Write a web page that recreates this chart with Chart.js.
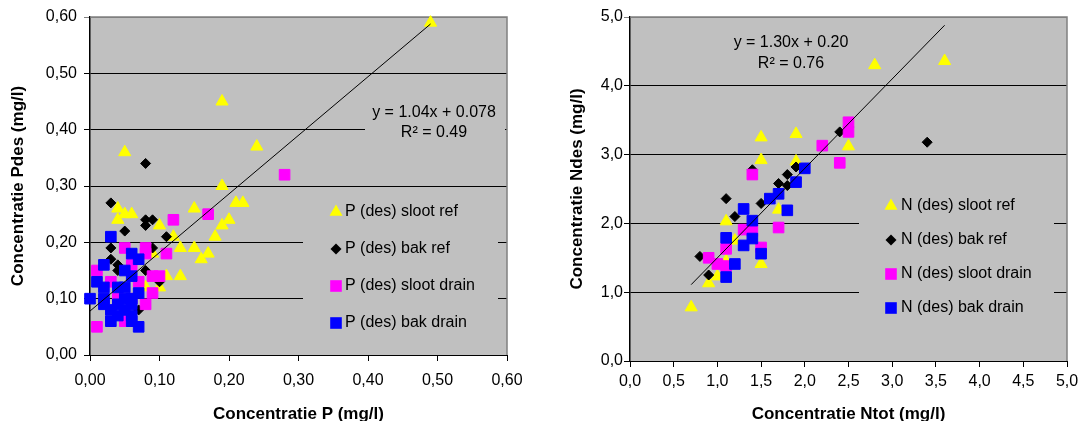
<!DOCTYPE html>
<html lang="nl">
<head>
<meta charset="utf-8">
<title>Pdes en Ndes</title>
<script src="https://cdn.jsdelivr.net/npm/chart.js@4.4.1/dist/chart.umd.min.js"></script>
<style>
  html, body { margin: 0; padding: 0; background: #fff; overflow: hidden; }
  canvas { position: absolute; top: 0; }
  #chartP { left: 0; }
  #chartN { left: 550px; }
</style>
</head>
<body>
<canvas id="chartP" width="545" height="430"></canvas>
<canvas id="chartN" width="540" height="430"></canvas>
<script>
// Fosfor: [P totaal, P des] in mg/l
const pSlootRef = [[0.49,0.59],[0.19,0.45],[0.24,0.37],[0.05,0.36],[0.19,0.30],[0.21,0.27],[0.22,0.27],
  [0.15,0.26],[0.04,0.26],[0.05,0.25],[0.06,0.25],[0.04,0.24],[0.20,0.24],[0.19,0.23],[0.10,0.23],
  [0.18,0.21],[0.12,0.21],[0.13,0.19],[0.15,0.19],[0.17,0.18],[0.16,0.17],[0.09,0.18],[0.11,0.14],
  [0.13,0.14],[0.10,0.12],[0.08,0.12]];
const pBakRef = [[0.08,0.34],[0.03,0.27],[0.08,0.24],[0.09,0.24],[0.08,0.23],[0.05,0.22],[0.11,0.21],
  [0.03,0.19],[0.09,0.19],[0.03,0.17],[0.04,0.16],[0.04,0.15],[0.08,0.15],[0.07,0.08],[0.10,0.13]];
const pSlootDrain = [[0.28,0.32],[0.17,0.25],[0.12,0.24],[0.05,0.19],[0.08,0.19],[0.11,0.18],[0.08,0.18],
  [0.06,0.16],[0.01,0.15],[0.03,0.13],[0.07,0.13],[0.09,0.14],[0.10,0.14],[0.09,0.11],[0.04,0.10],
  [0.08,0.09],[0.01,0.05],[0.05,0.06],[0.06,0.10]];
const pBakDrain = [[0.03,0.21],[0.06,0.18],[0.07,0.17],[0.02,0.16],[0.05,0.15],[0.06,0.14],[0.01,0.13],
  [0.04,0.12],[0.00,0.10],[0.02,0.10],[0.05,0.10],[0.06,0.10],[0.02,0.09],[0.04,0.09],[0.06,0.09],
  [0.03,0.08],[0.05,0.08],[0.04,0.07],[0.06,0.07],[0.03,0.06],[0.06,0.06],[0.07,0.05],[0.02,0.12],
  [0.05,0.12],[0.07,0.11]];

// Stikstof: [N totaal, N des] in mg/l
const nSlootRef = [[3.6,4.36],[2.8,4.30],[1.5,3.25],[1.9,3.30],[2.5,3.12],[1.5,2.92],[1.9,2.90],
  [1.7,2.20],[1.1,2.03],[1.2,1.75],[1.5,1.41],[1.0,1.23],[0.9,1.13],[0.7,0.78],[1.1,1.45]];
const nBakRef = [[3.4,3.18],[2.4,3.33],[1.9,2.82],[1.8,2.71],[1.7,2.58],[1.8,2.55],[1.4,2.78],
  [1.1,2.36],[1.2,2.10],[1.5,2.29],[0.8,1.52],[0.9,1.25]];
const nSlootDrain = [[2.5,3.47],[2.5,3.33],[2.2,3.13],[2.4,2.88],[1.4,2.71],[1.7,1.94],[1.3,1.91],
  [1.4,1.89],[1.1,1.63],[0.9,1.50],[1.0,1.41],[1.1,1.38],[1.5,1.65]];
const nBakDrain = [[2.0,2.80],[1.9,2.60],[1.7,2.43],[1.6,2.36],[1.8,2.19],[1.3,2.21],[1.4,2.04],
  [1.1,1.79],[1.3,1.68],[1.4,1.78],[1.5,1.56],[1.2,1.41],[1.1,1.22]];

const pLabels = ['P (des) sloot ref', 'P (des) bak ref', 'P (des) sloot drain', 'P (des) bak drain'];
const nLabels = ['N (des) sloot ref', 'N (des) bak ref', 'N (des) sloot drain', 'N (des) bak drain'];

// trendlijnen
const pSlope = 1.04, pIntercept = 0.078;
const nSlope = 1.30, nIntercept = 0.20;
const pEquation = ['y = 1.04x + 0.078', 'R\u00b2 = 0.49'];
const nEquation = ['y = 1.30x + 0.20', 'R\u00b2 = 0.76'];

// assen
const pTicks = [0, 0.1, 0.2, 0.3, 0.4, 0.5, 0.6];
const pTickLabels = ['0,00', '0,10', '0,20', '0,30', '0,40', '0,50', '0,60'];
const nXTicks = [0, 0.5, 1, 1.5, 2, 2.5, 3, 3.5, 4, 4.5, 5];
const nXTickLabels = ['0,0', '0,5', '1,0', '1,5', '2,0', '2,5', '3,0', '3,5', '4,0', '4,5', '5,0'];
const nYTicks = [0, 1, 2, 3, 4, 5];
const nYTickLabels = ['0,0', '1,0', '2,0', '3,0', '4,0', '5,0'];

const FONT = '"Liberation Sans", Arial, sans-serif';

const seriesStyle = [
    { pointStyle: 'triangle', color: '#ffff00', radius: 7 },
    { pointStyle: 'rectRot', color: '#000000', radius: 5 },
    { pointStyle: 'rect', color: '#ff00ff', radius: 7.5 },
    { pointStyle: 'rect', color: '#0000ff', radius: 7.5 }
];

const toPoints = (rows) => rows.map(([x, y]) => ({ x: x, y: y }));

// lijn over het bereik van de metingen
const trendPoints = (series, slope, intercept) => {
    const xs = series.flat().map(p => p[0]);
    const x0 = Math.min(...xs);
    const x1 = Math.max(...xs);
    return [{ x: x0, y: slope * x0 + intercept }, { x: x1, y: slope * x1 + intercept }];
};

const makeDatasets = (series, labels, slope, intercept) => {
    const sets = series.map((rows, i) => ({
        type: 'scatter',
        label: labels[i],
        data: toPoints(rows),
        pointStyle: seriesStyle[i].pointStyle,
        pointRadius: seriesStyle[i].radius,
        pointHoverRadius: seriesStyle[i].radius,
        pointBackgroundColor: seriesStyle[i].color,
        pointBorderColor: seriesStyle[i].color,
        pointBorderWidth: 1,
        order: series.length - i,
        clip: false
    }));
    sets.push({
        type: 'line',
        label: 'trend',
        data: trendPoints(series, slope, intercept),
        borderColor: '#000',
        borderWidth: 1,
        pointRadius: 0,
        fill: false,
        order: 0,
        clip: false
    });
    return sets;
};

const drawMarker = (ctx, st, x, y) => {
    const r = st.radius;
    ctx.fillStyle = st.color;
    ctx.beginPath();
    if (st.pointStyle === 'triangle') {
        for (let k = 0; k < 3; k++) {
            const a = k * 2 * Math.PI / 3;
            ctx.lineTo(x + Math.sin(a) * (r + 0.5), y - Math.cos(a) * (r + 0.5));
        }
    } else if (st.pointStyle === 'rectRot') {
        ctx.moveTo(x - r - 0.5, y);
        ctx.lineTo(x, y - r - 0.5);
        ctx.lineTo(x + r + 0.5, y);
        ctx.lineTo(x, y + r + 0.5);
    } else {
        const h = Math.SQRT1_2 * r + 0.5;
        ctx.rect(x - h, y - h, 2 * h, 2 * h);
    }
    ctx.closePath();
    ctx.fill();
};

// grijze plotachtergrond met rand boven en rechts
const plotArea = {
    id: 'plotArea',
    beforeDraw(chart) {
        const { ctx, chartArea: a } = chart;
        ctx.save();
        ctx.fillStyle = '#c0c0c0';
        ctx.fillRect(a.left, a.top, a.right - a.left, a.bottom - a.top);
        ctx.restore();
    },
    beforeDatasetsDraw(chart) {
        const { ctx, chartArea: a } = chart;
        ctx.save();
        ctx.strokeStyle = '#808080';
        ctx.lineWidth = 1.5;
        ctx.beginPath();
        ctx.moveTo(a.left, a.top);
        ctx.lineTo(a.right, a.top);
        ctx.lineTo(a.right, a.bottom);
        ctx.stroke();
        ctx.restore();
    }
};

// vergelijking en legenda binnen het plotvlak
const overlay = {
    id: 'overlay',
    afterDatasetsDraw(chart, args, opts) {
        const ctx = chart.ctx;
        ctx.save();
        const eq = opts.equation;
        ctx.fillStyle = '#c0c0c0';
        ctx.fillRect(eq.box[0], eq.box[1], eq.box[2], eq.box[3]);
        ctx.fillStyle = '#000';
        ctx.font = '16px ' + FONT;
        ctx.textAlign = 'center';
        ctx.textBaseline = 'middle';
        eq.lines.forEach((t, i) => ctx.fillText(t, eq.x, eq.y + i * eq.gap));

        const lg = opts.legend;
        ctx.fillStyle = '#c0c0c0';
        ctx.fillRect(lg.box[0], lg.box[1], lg.box[2], lg.box[3]);
        ctx.textAlign = 'left';
        chart.data.datasets.slice(0, 4).forEach((ds, i) => {
            const y = lg.y + i * lg.gap;
            drawMarker(ctx, seriesStyle[i], lg.markerX, y);
            ctx.fillStyle = '#000';
            ctx.fillText(ds.label, lg.textX, y);
        });
        ctx.restore();
    }
};

const scaleOptions = (cfg) => ({
    x: {
        type: 'linear',
        position: 'bottom',
        min: cfg.xTicks[0],
        max: cfg.xTicks[cfg.xTicks.length - 1],
        afterBuildTicks: (sc) => { sc.ticks = cfg.xTicks.map(v => ({ value: v })); },
        afterFit: (sc) => { sc.height = cfg.xHeight; },
        ticks: {
            callback: (v, i) => cfg.xLabels[i],
            font: { family: FONT, size: 16 },
            color: '#000',
            padding: cfg.xPad,
            maxRotation: 0,
            autoSkip: false
        },
        grid: { drawOnChartArea: false, tickLength: 6, color: '#000' },
        border: { color: '#000' },
        title: {
            display: true,
            text: cfg.xTitle,
            color: '#000',
            font: { family: FONT, size: 17, weight: 'bold' },
            padding: { top: 0, bottom: 5 }
        }
    },
    y: {
        type: 'linear',
        position: 'left',
        min: cfg.yTicks[0],
        max: cfg.yTicks[cfg.yTicks.length - 1],
        afterBuildTicks: (sc) => { sc.ticks = cfg.yTicks.map(v => ({ value: v })); },
        afterFit: (sc) => { sc.width = cfg.yWidth; },
        ticks: {
            callback: (v, i) => cfg.yLabels[i],
            font: { family: FONT, size: 16 },
            color: '#000',
            padding: cfg.yPad
        },
        grid: {
            color: (c) => (c.tick && c.tick.value === cfg.yTicks[cfg.yTicks.length - 1]) ? '#808080' : '#000',
            lineWidth: 1,
            tickLength: 6
        },
        border: { color: '#000', width: 1.5 },
        title: {
            display: true,
            text: cfg.yTitle,
            color: '#000',
            font: { family: FONT, size: 17, weight: 'bold' },
            padding: { top: cfg.yTitlePad, bottom: 0 }
        }
    }
});

const makeChart = (id, cfg) => new Chart(document.getElementById(id), {
    data: { datasets: makeDatasets(cfg.series, cfg.labels, cfg.slope, cfg.intercept) },
    options: {
        responsive: false,
        animation: false,
        devicePixelRatio: 1,
        layout: { padding: cfg.padding },
        scales: scaleOptions(cfg),
        plugins: {
            legend: { display: false },
            tooltip: { enabled: false },
            overlay: { equation: cfg.equation, legend: cfg.legend }
        }
    },
    plugins: [plotArea, overlay]
});

makeChart('chartP', {
    series: [pSlootRef, pBakRef, pSlootDrain, pBakDrain],
    labels: pLabels,
    slope: pSlope,
    intercept: pIntercept,
    xTicks: pTicks, xLabels: pTickLabels,
    yTicks: pTicks, yLabels: pTickLabels,
    xTitle: 'Concentratie P (mg/l)',
    yTitle: 'Concentratie Pdes (mg/l)',
    xHeight: 75, yWidth: 90, xPad: 10, yPad: 7, yTitlePad: 8,
    padding: { left: 0, top: 17, right: 38, bottom: 0 },
    equation: { lines: pEquation, x: 434, y: 113, gap: 20, box: [365, 100, 140, 45] },
    legend: { box: [303, 192, 195, 153], markerX: 336, textX: 345, y: 212, gap: 37 }
});

makeChart('chartN', {
    series: [nSlootRef, nBakRef, nSlootDrain, nBakDrain],
    labels: nLabels,
    slope: nSlope,
    intercept: nIntercept,
    xTicks: nXTicks, xLabels: nXTickLabels,
    yTicks: nYTicks, yLabels: nYTickLabels,
    xTitle: 'Concentratie Ntot (mg/l)',
    yTitle: 'Concentratie Ndes (mg/l)',
    xHeight: 69, yWidth: 80, xPad: 5, yPad: 1, yTitlePad: 17,
    padding: { left: 0, top: 17, right: 23, bottom: 0 },
    equation: { lines: nEquation, x: 241, y: 43, gap: 21, box: [170, 30, 140, 46] },
    legend: { box: [309, 180, 195, 178], markerX: 341, textX: 351, y: 206, gap: 34 }
});
</script>
</body>
</html>
